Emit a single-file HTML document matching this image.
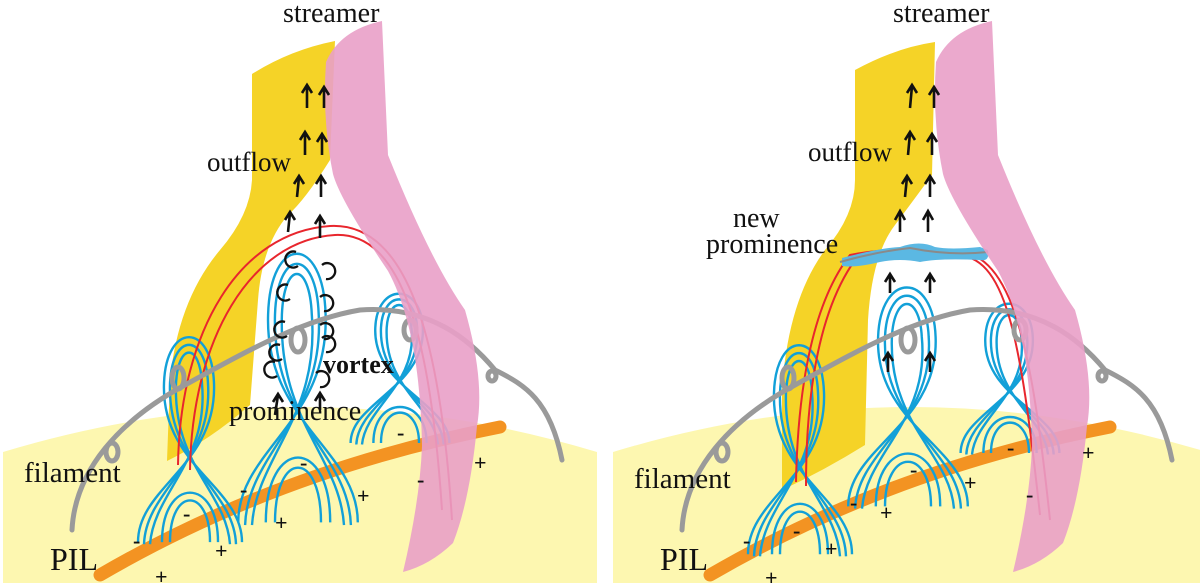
<!DOCTYPE html>
<html><head><meta charset="utf-8"><style>
html,body{margin:0;padding:0;background:#fff;}
svg{display:block}
text{font-family:"Liberation Serif",serif;fill:#111}
</style></head><body>
<svg width="1200" height="583" viewBox="0 0 1200 583" xmlns="http://www.w3.org/2000/svg" font-family="Liberation Serif, serif">
<defs>
 <g id="tw" fill="none" stroke="#12a0d8" stroke-width="2.4">
  <path vector-effect="non-scaling-stroke" d="M-52,104 C-52,50 27,30 24,-50 C22,-110 -24,-110 -26,-50 C-29,30 52,50 52,104"/>
  <path vector-effect="non-scaling-stroke" d="M-46,106 C-44,52 23,28 18,-50 C16,-100 -18,-100 -20,-50 C-23,30 44,52 46,106"/>
  <path vector-effect="non-scaling-stroke" d="M-40,106 C-36,55 19,26 12,-50 C10,-90 -12,-90 -14,-50 C-17,30 36,55 40,106"/>
  <path vector-effect="non-scaling-stroke" d="M-28,104 C-28,40 28,40 28,104"/>
  <path vector-effect="non-scaling-stroke" d="M-20,104 C-20,50 20,50 20,104"/>
 </g>
 <g id="base">
  <path d="M3,452 Q300,362 597,452 L597,583 L3,583Z" fill="#fdf7b0"/>
 </g>
</defs>

<use href="#base"/>
<path d="M100,575 Q280,470 500,427" stroke="#f39322" stroke-width="13" fill="none" stroke-linecap="round"/>
<path d="M252,74 Q290,50 335,41 L330,160 Q305,200 288,215 Q262,245 258,300 L250,405 Q210,440 167,461 L170,380 Q178,300 220,250 Q250,215 252,180 Z" fill="#f5d327"/>
<use href="#tw" transform="translate(190,435) scale(1,1.03)"/>
<use href="#tw" transform="translate(298,382) scale(1.15,1.35)"/>
<use href="#tw" transform="translate(400,365) scale(0.95,0.75)"/>
<path d="M178,465 C180,330 240,232 330,226 C405,222 440,330 452,520" stroke="#e8262d" stroke-width="2" fill="none"/>
<path d="M190,470 C192,340 250,240 335,235 C400,232 430,330 442,510" stroke="#e8262d" stroke-width="2" fill="none"/>
<g fill="none" stroke="#9a9a9a" stroke-width="5" stroke-linecap="round">
 <path d="M72,530 C75,470 120,420 185,385 C240,355 300,320 360,310 C430,305 470,340 495,370 C525,385 550,400 562,460"/>
 <ellipse cx="112" cy="452" rx="6" ry="9"/>
 <ellipse cx="178" cy="378" rx="6" ry="11"/>
 <ellipse cx="298" cy="340" rx="7" ry="12"/>
 <ellipse cx="410" cy="330" rx="6" ry="10"/>
 <ellipse cx="492" cy="376" rx="4" ry="5"/>
</g>
<g fill="none" stroke="#111" stroke-width="2.3">
 <path d="M296,252 a8,8 0 1,0 2,14"/>
 <path d="M322,265 a8,8 0 1,1 4,14"/>
 <path d="M288,285 a8,8 0 1,0 2,14"/>
 <path d="M320,297 a8,8 0 1,1 4,14"/>
 <path d="M285,322 a8,8 0 1,0 2,14"/>
 <path d="M320,325 a8,8 0 1,1 4,14"/>
 <path d="M280,345 a8,8 0 1,0 2,14"/>
 <path d="M322,338 a8,8 0 1,1 4,14"/>
 <path d="M275,362 a8,8 0 1,0 2,14"/>
 <path d="M316,373 a8,8 0 1,1 4,14"/>
</g>
<path d="M326,62 Q340,30 382,21 L388,155 Q430,260 465,310 Q485,380 477,426 Q470,500 453,543 Q430,565 403,572 Q420,500 422,446 Q420,330 388,271 Q340,200 333,174 Q322,120 326,62Z" fill="#e9a0c8" opacity="0.9"/>
<g stroke="#111" stroke-width="2.6" fill="none">
 <path d="M307,108 L307,86 M302,93 L307,85 L312,93"/>
 <path d="M324,108 L324,88 M319,95 L324,87 L329,95"/>
 <path d="M305,155 L305,133 M300,140 L305,132 L310,140"/>
 <path d="M322,155 L322,135 M317,142 L322,134 L327,142"/>
 <path d="M297,197 L299,177 M294,184 L299,176 L304,184"/>
 <path d="M321,197 L321,177 M316,184 L321,176 L326,184"/>
 <path d="M288,232 L290,213 M285,220 L290,212 L295,220"/>
 <path d="M320,238 L320,217 M315,224 L320,216 L325,224"/>
 <path d="M275,415 L278,395 M273,402 L278,394 L283,402"/>
 <path d="M320,410 L320,394 M315,401 L320,393 L325,401"/>
</g>
<text x="283" y="22" font-size="28">streamer</text>
<text x="207" y="171" font-size="27">outflow</text>
<text x="323" y="373" font-size="26" font-weight="bold">vortex</text>
<text x="229" y="420" font-size="28">prominence</text>
<text x="24" y="482" font-size="29">filament</text>
<text x="50" y="570" font-size="32">PIL</text>
<g font-size="22" font-weight="bold" font-family="Liberation Sans, sans-serif">
 <text x="133" y="548">-</text><text x="183" y="521">-</text><text x="240" y="497">-</text>
 <text x="300" y="470">-</text><text x="397" y="440">-</text><text x="417" y="487">-</text>
 <text x="155" y="584">+</text><text x="215" y="558">+</text><text x="275" y="530">+</text>
 <text x="357" y="503">+</text><text x="474" y="470">+</text>
</g>

<g transform="translate(610,0)">
<use href="#base"/>
<path d="M100,575 Q280,470 500,427" stroke="#f39322" stroke-width="13" fill="none" stroke-linecap="round"/>
<path d="M245,70 Q285,48 325,42 L322,175 Q300,205 285,225 Q262,255 258,320 L255,445 Q215,470 172,490 L172,390 Q178,300 215,250 Q245,215 245,180 Z" fill="#f5d327"/>
<use href="#tw" transform="translate(190,445) scale(1,1.05)"/>
<use href="#tw" transform="translate(298,392) scale(1.15,1.1)"/>
<use href="#tw" transform="translate(400,375) scale(0.95,0.75)"/>
<path d="M186,482 C188,380 205,300 240,255 C265,250 300,248 340,250 C400,250 420,330 440,520" stroke="#e8262d" stroke-width="2" fill="none"/>
<path d="M196,486 C196,380 213,305 245,260 C275,255 310,255 345,255 C395,255 410,330 430,515" stroke="#e8262d" stroke-width="2" fill="none"/>
<path d="M232,258 Q270,248 290,247 Q310,240 325,247 Q340,250 370,247 L378,250 Q380,262 370,260 Q330,258 310,262 Q290,258 270,262 Q245,268 232,266Z" fill="#5bb8e3"/>
<path d="M230,262 Q265,252 300,248 Q340,256 378,252" stroke="#8a8a8a" stroke-width="2" fill="none"/>
<g fill="none" stroke="#9a9a9a" stroke-width="5" stroke-linecap="round">
 <path d="M72,530 C75,470 120,420 185,385 C240,355 300,320 360,310 C430,305 470,340 495,370 C525,385 550,400 562,460"/>
 <ellipse cx="112" cy="452" rx="6" ry="9"/>
 <ellipse cx="178" cy="378" rx="6" ry="11"/>
 <ellipse cx="298" cy="340" rx="7" ry="12"/>
 <ellipse cx="410" cy="330" rx="6" ry="10"/>
 <ellipse cx="492" cy="376" rx="4" ry="5"/>
</g>
<path d="M326,62 Q340,30 382,21 L388,155 Q430,260 465,310 Q485,380 477,426 Q470,500 453,543 Q430,565 403,572 Q420,500 422,446 Q420,330 388,271 Q340,200 333,174 Q322,120 326,62Z" fill="#e9a0c8" opacity="0.9"/>
<g stroke="#111" stroke-width="2.6" fill="none">
 <path d="M300,108 L302,86 M297,93 L302,85 L307,93"/>
 <path d="M324,108 L324,88 M319,95 L324,87 L329,95"/>
 <path d="M298,155 L300,133 M295,140 L300,132 L305,140"/>
 <path d="M322,155 L322,135 M317,142 L322,134 L327,142"/>
 <path d="M295,197 L297,177 M292,184 L297,176 L302,184"/>
 <path d="M320,197 L320,177 M315,184 L320,176 L325,184"/>
 <path d="M290,232 L290,212 M285,220 L290,211 L295,220"/>
 <path d="M318,232 L318,212 M313,220 L318,211 L323,220"/>
 <path d="M280,293 L280,275 M275,282 L280,274 L285,282"/>
 <path d="M320,293 L320,275 M315,282 L320,274 L325,282"/>
 <path d="M278,372 L278,354 M273,361 L278,353 L283,361"/>
 <path d="M320,372 L320,354 M315,361 L320,353 L325,361"/>
</g>
<text x="283" y="22" font-size="28">streamer</text>
<text x="198" y="161" font-size="27">outflow</text>
<text x="123" y="227" font-size="28">new</text>
<text x="96" y="253" font-size="28">prominence</text>
<text x="24" y="488" font-size="29">filament</text>
<text x="50" y="570" font-size="32">PIL</text>
<g font-size="22" font-weight="bold" font-family="Liberation Sans, sans-serif">
 <text x="133" y="548">-</text><text x="183" y="538">-</text><text x="240" y="510">-</text>
 <text x="300" y="477">-</text><text x="397" y="455">-</text><text x="416" y="502">-</text>
 <text x="155" y="585">+</text><text x="215" y="556">+</text><text x="270" y="520">+</text>
 <text x="354" y="490">+</text><text x="472" y="460">+</text>
</g>
</g>
</svg>
</body></html>
